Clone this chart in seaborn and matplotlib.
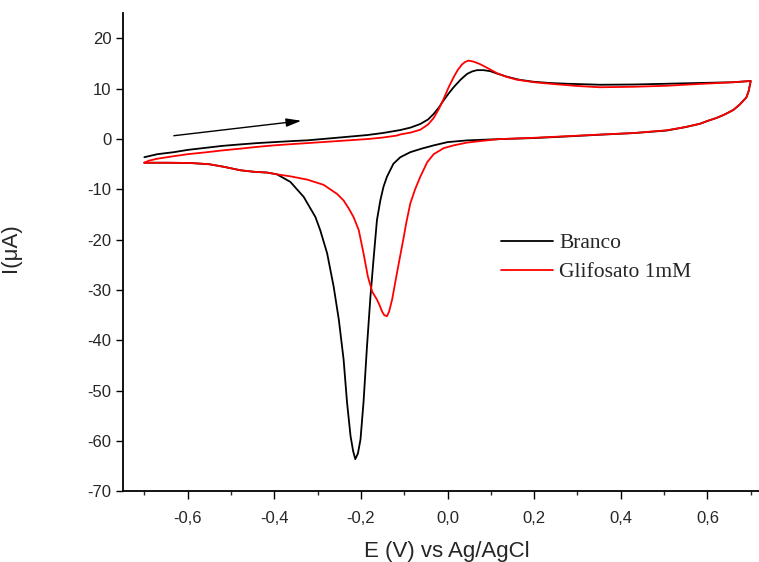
import numpy as np
import pandas as pd
import matplotlib
matplotlib.use("Agg")
import matplotlib.pyplot as plt
import seaborn as sns

# ---------------- data ----------------
series_names = ["Branco", "Glifosato 1mM"]
series_colors = ["#000000", "#ff0000"]

# Branco: forward (upper) branch, -0.7 -> 0.7
branco_fwd_E = [-0.70, -0.67, -0.632, -0.60, -0.555, -0.52, -0.478, -0.44, -0.401, -0.36,
                -0.324, -0.264, -0.186, -0.15, -0.109, -0.085, -0.063, -0.045,
                -0.032, -0.02, -0.009, 0.002, 0.014, 0.03, 0.045, 0.057, 0.068, 0.083,
                0.0985, 0.115, 0.137, 0.165, 0.198, 0.235, 0.275, 0.352, 0.43, 0.506,
                0.58, 0.66, 0.70]
branco_fwd_I = [-3.6, -3.0, -2.6, -2.15, -1.7, -1.35, -1.05, -0.8, -0.6, -0.4,
                -0.25, 0.2, 0.8, 1.2, 1.8, 2.3, 3.0, 3.9,
                5.0, 6.3, 7.7, 9.0, 10.3, 11.8, 12.95, 13.45, 13.7, 13.7,
                13.5, 13.0, 12.4, 11.8, 11.4, 11.15, 11.0, 10.8, 10.85, 11.0,
                11.15, 11.3, 11.55]
# Branco: reverse (lower) branch, 0.7 -> -0.7
branco_rev_E = [0.70, 0.695, 0.69, 0.675, 0.66, 0.64, 0.621, 0.60, 0.583, 0.55,
                0.506, 0.43, 0.352, 0.27, 0.198, 0.12, 0.045, 0.0, -0.032, -0.06,
                -0.086, -0.109, -0.125, -0.14, -0.148, -0.155, -0.163, -0.171, -0.178, -0.186,
                -0.194, -0.201, -0.207, -0.213, -0.218, -0.224, -0.232, -0.24, -0.251, -0.263,
                -0.278, -0.294, -0.305, -0.332, -0.363, -0.394, -0.417, -0.447, -0.478, -0.517,
                -0.55, -0.594, -0.647, -0.70]
branco_rev_I = [11.55, 9.5, 8.3, 6.9, 5.8, 4.9, 4.2, 3.6, 3.05, 2.4,
                1.7, 1.2, 0.87, 0.5, 0.2, 0.0, -0.26, -0.6, -1.25, -1.9,
                -2.6, -3.6, -4.9, -7.5, -9.5, -12.1, -16.1, -24.0, -31.3, -41.2,
                -52.3, -59.7, -62.5, -63.6, -62.0, -59.0, -52.4, -43.8, -35.9, -29.3,
                -22.7, -18.1, -15.5, -11.5, -8.5, -7.0, -6.65, -6.5, -6.2, -5.5,
                -5.0, -4.75, -4.7, -4.7]

# Glifosato 1mM: forward (upper) branch
glif_fwd_E = [-0.70, -0.69, -0.67, -0.632, -0.60, -0.555, -0.52, -0.478, -0.44, -0.401,
              -0.36, -0.324, -0.255, -0.186, -0.15, -0.117, -0.109, -0.085, -0.063, -0.045,
              -0.032, -0.02, -0.009, 0.002, 0.014, 0.024, 0.033, 0.040, 0.048, 0.06,
              0.075, 0.095, 0.114, 0.135, 0.16, 0.2, 0.237, 0.3, 0.352, 0.43,
              0.506, 0.58, 0.66, 0.70]
glif_fwd_I = [-4.7, -4.3, -3.9, -3.4, -3.0, -2.6, -2.25, -1.9, -1.55, -1.25,
              -1.0, -0.8, -0.4, 0.0, 0.3, 0.7, 0.93, 1.3, 1.86, 2.9,
              4.2, 6.0, 8.0, 10.2, 12.3, 13.8, 14.8, 15.3, 15.6, 15.4,
              14.9, 14.0, 13.1, 12.4, 11.8, 11.3, 11.0, 10.55, 10.3, 10.4,
              10.6, 10.95, 11.3, 11.55]
# Glifosato 1mM: reverse (lower) branch
glif_rev_E = [0.70, 0.695, 0.69, 0.675, 0.66, 0.64, 0.621, 0.60, 0.583, 0.55,
              0.506, 0.43, 0.352, 0.27, 0.198, 0.12, 0.075, 0.045, 0.014, -0.009,
              -0.032, -0.047, -0.063, -0.075, -0.086, -0.095, -0.101, -0.11, -0.117, -0.128,
              -0.135, -0.14, -0.146, -0.151, -0.157, -0.163, -0.174, -0.184, -0.194, -0.205,
              -0.217, -0.228, -0.24, -0.255, -0.286, -0.324, -0.363, -0.394, -0.417, -0.447,
              -0.478, -0.517, -0.55, -0.594, -0.647, -0.70]
glif_rev_I = [11.55, 9.5, 8.3, 6.9, 5.8, 4.9, 4.2, 3.6, 3.05, 2.4,
              1.75, 1.2, 0.9, 0.55, 0.25, 0.0, -0.4, -0.7, -1.25, -1.8,
              -3.0, -4.6, -7.5, -10.0, -12.8, -16.5, -19.4, -23.5, -26.7, -31.9,
              -34.3, -35.2, -35.0, -34.3, -33.0, -31.9, -30.3, -27.3, -22.7, -18.1,
              -15.5, -13.8, -12.2, -10.9, -9.1, -8.05, -7.4, -7.0, -6.65, -6.5,
              -6.2, -5.5, -5.0, -4.75, -4.7, -4.7]

x_ticks = [-0.6, -0.4, -0.2, 0.0, 0.2, 0.4, 0.6]
x_tick_labels = ["-0,6", "-0,4", "-0,2", "0,0", "0,2", "0,4", "0,6"]
y_ticks = [20, 10, 0, -10, -20, -30, -40, -50, -60, -70]
y_tick_labels = ["20", "10", "0", "-10", "-20", "-30", "-40", "-50", "-60", "-70"]

arrow_start = (-0.632, 0.67)
arrow_end = (-0.3375, 3.64)

# ---------------- build table ----------------
frames = []
for name, E1, I1, E2, I2 in [
    (series_names[0], branco_fwd_E, branco_fwd_I, branco_rev_E, branco_rev_I),
    (series_names[1], glif_fwd_E, glif_fwd_I, glif_rev_E, glif_rev_I),
]:
    E = list(E1) + list(E2)
    I = list(I1) + list(I2)
    frames.append(pd.DataFrame({"E": E, "I": I, "serie": name}))
df = pd.concat(frames, ignore_index=True)

# ---------------- plot ----------------
sns.set_style("ticks")
plt.rcParams["font.family"] = ["Liberation Sans", "DejaVu Sans"]
plt.rcParams["axes.unicode_minus"] = False

fig = plt.figure(figsize=(7.59, 5.62), dpi=100)
W, H = 759, 562
left_px, right_px, top_px, bottom_px = 122.7, 772.4, 13.3, 491.3
ax = fig.add_axes([left_px / W, 1 - bottom_px / H,
                   (right_px - left_px) / W, (bottom_px - top_px) / H])

for name, col in zip(series_names, series_colors):
    sub = df[df["serie"] == name]
    sns.lineplot(x=sub["E"].values, y=sub["I"].values, sort=False, estimator=None,
                 color=col, linewidth=1.3, ax=ax, label=name)

ax.set_xlim(-0.75, 0.75)
ax.set_ylim(-70, 25)
ax.set_xticks(x_ticks)
ax.set_xticklabels(x_tick_labels)
ax.set_xticks(np.arange(-0.7, 0.75, 0.2), minor=True)
ax.set_yticks(y_ticks)
ax.set_yticklabels(y_tick_labels)
ax.tick_params(axis="both", which="major", direction="out", length=6, width=1.0,
               labelsize=12, color="black")
ax.tick_params(axis="x", which="major", pad=8)
ax.tick_params(axis="y", which="major", pad=3, length=5)
ax.tick_params(axis="x", which="minor", direction="out", length=3, width=1.0)
for s in ["top", "right"]:
    ax.spines[s].set_visible(False)
for s in ["left", "bottom"]:
    ax.spines[s].set_linewidth(1.3)
    ax.spines[s].set_color("black")

ax.set_xlabel("E (V) vs Ag/AgCl", fontsize=16)
ax.set_ylabel("I(\u03bcA)", fontsize=16)
ax.xaxis.set_label_coords((447 - left_px) / (right_px - left_px), (bottom_px - 541) / (bottom_px - top_px))
ax.yaxis.set_label_coords((21 - left_px) / (right_px - left_px), (bottom_px - 247.5) / (bottom_px - top_px))

ax.annotate("", xy=arrow_end, xytext=arrow_start,
            arrowprops=dict(arrowstyle="-|>,head_length=0.65,head_width=0.18",
                            color="black", lw=1.0, mutation_scale=14,
                            shrinkA=0, shrinkB=0))

leg = ax.legend(loc="upper left", bbox_to_anchor=(501 / W, 1 - 233 / H),
                bbox_transform=fig.transFigure, frameon=False,
                prop={"family": "Liberation Serif", "size": 15.5},
                handlelength=2.4, handletextpad=0.3, labelspacing=0.42,
                borderpad=0, borderaxespad=0)
for line in leg.get_lines():
    line.set_linewidth(1.3)

fig.savefig("out.png", dpi=100)
